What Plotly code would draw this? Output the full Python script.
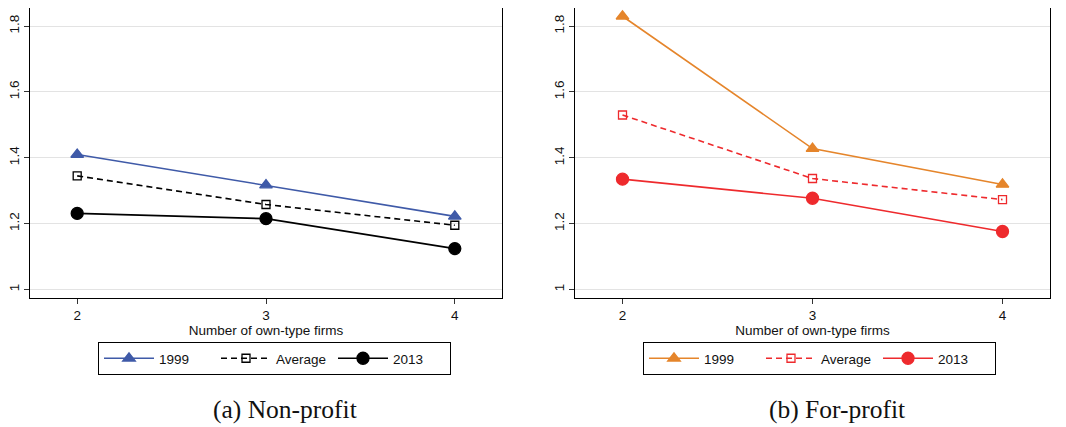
import plotly.graph_objects as go

x_vals = [2, 3, 4]
np_1999 = [1.410, 1.317, 1.222]
np_avg = [1.345, 1.258, 1.195]
np_2013 = [1.231, 1.215, 1.124]
fp_1999 = [1.830, 1.428, 1.319]
fp_avg = [1.530, 1.337, 1.273]
fp_2013 = [1.335, 1.277, 1.176]
y_ticks = [1, 1.2, 1.4, 1.6, 1.8]
y_ticklabels = ["1", "1.2", "1.4", "1.6", "1.8"]
x_title = "Number of own-type firms"
captions = ["(a) Non-profit", "(b) For-profit"]

BLUE = "#3F5AA8"
ORANGE = "#E5852B"
RED = "#EE2A2D"
BLACK = "#000000"

fig = go.Figure()

def add(x, y, name, color, symbol, size, dash, xa, ya, legend, fill=None):
    fig.add_trace(go.Scatter(
        x=x, y=y, name=name, mode="lines+markers",
        line=dict(color=color, width=1.6, dash=dash),
        marker=dict(symbol=symbol, size=size, color=fill if fill else color,
                    line=dict(color=color, width=1.3)),
        xaxis=xa, yaxis=ya, legend=legend))

add(x_vals, np_1999, "1999", BLUE, "triangle-up", 11, "solid", "x", "y", "legend")
add(x_vals, np_avg, "Average", BLACK, "square-open", 8, "6px,4px", "x", "y", "legend")
add(x_vals, np_2013, "2013", BLACK, "circle", 12, "solid", "x", "y", "legend")
add(x_vals, fp_1999, "1999", ORANGE, "triangle-up", 11, "solid", "x2", "y2", "legend2")
add(x_vals, fp_avg, "Average", RED, "square-open", 8, "6px,4px", "x2", "y2", "legend2")
add(x_vals, fp_2013, "2013", RED, "circle", 12, "solid", "x2", "y2", "legend2")

OFF = 8  # default page body margin
W, H = 1066 - OFF, 427 - OFF
def px(v):
    return (v - OFF) / W
def py(v):
    return 1 - (v - OFF) / H

tickfont = dict(family="Liberation Sans, Arial, sans-serif", size=13.5, color="#111")
xcommon = dict(range=[1.75, 4.25], tickvals=x_vals, ticks="outside", ticklen=5,
               tickcolor="#333", showgrid=False, zeroline=False, showline=True,
               linecolor="black", linewidth=1, mirror=True, tickfont=tickfont,
               automargin=False,
               title=dict(text=x_title, font=tickfont, standoff=1))
ycommon = dict(range=[0.974, 1.855], tickvals=y_ticks, ticktext=y_ticklabels,
               tickangle=-90, ticks="outside", ticklen=5, tickcolor="#333",
               showgrid=True, gridcolor="#e3e3e3", gridwidth=1.2, zeroline=False,
               showline=True, linecolor="black", linewidth=1, mirror=True,
               tickfont=tickfont, automargin=False)

legcommon = dict(orientation="h", yanchor="top", y=py(342), xanchor="center",
                 bordercolor="black", borderwidth=1, bgcolor="white",
                 font=dict(family="Liberation Sans, Arial, sans-serif", size=13.5, color="#111"),
                 itemwidth=50, entrywidth=52, tracegroupgap=0, itemclick=False)

capfont = dict(family="Liberation Serif, serif", size=25.5, color="#111")

fig.update_layout(
    width=W, height=H, margin=dict(l=0, r=0, t=0, b=0, autoexpand=False),
    paper_bgcolor="white", plot_bgcolor="white",
    xaxis=dict(domain=[px(30), px(502)], anchor="y", **xcommon),
    yaxis=dict(domain=[py(298), py(8)], anchor="x", **ycommon),
    xaxis2=dict(domain=[px(575), px(1050)], anchor="y2", **xcommon),
    yaxis2=dict(domain=[py(298), py(8)], anchor="x2", **ycommon),
    legend=dict(x=px(274.5), **legcommon),
    legend2=dict(x=px(819.5), **legcommon),
    annotations=[
        dict(text=captions[0], x=px(285), y=py(409), xref="paper", yref="paper",
             xanchor="center", yanchor="middle", showarrow=False, font=capfont),
        dict(text=captions[1], x=px(837), y=py(409), xref="paper", yref="paper",
             xanchor="center", yanchor="middle", showarrow=False, font=capfont),
    ],
)

fig.write_html("out.html")
